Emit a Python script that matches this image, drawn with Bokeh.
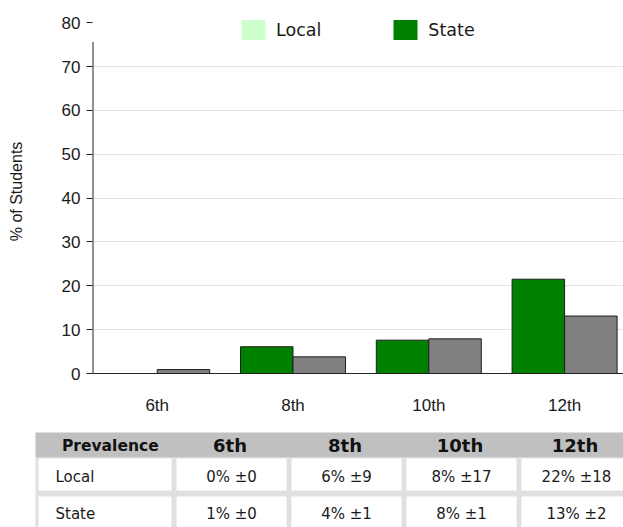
import numpy as np
from bokeh.plotting import figure
from bokeh.models import Range1d, FixedTicker, Legend, LegendItem
from bokeh.core.properties import value
from bokeh.embed import file_html
from bokeh.resources import INLINE

# ---------------- data ----------------
grades = ["6th", "8th", "10th", "12th"]
local_pct = [0.0, 6.1, 7.6, 21.5]
state_pct = [0.9, 3.8, 7.9, 13.1]
local_txt = ["0% \u00b10", "6% \u00b19", "8% \u00b117", "22% \u00b118"]
state_txt = ["1% \u00b10", "4% \u00b11", "8% \u00b11", "13% \u00b12"]
row_names = ["Local", "State"]
table_head = "Prevalence"
y_tick_values = [0, 10, 20, 30, 40, 50, 60, 70, 80]
y_title = "% of Students"
series_names = ["Local", "State"]

# ---------------- styles ----------------
GREEN = "#008000"
GRAY = "#808080"
LEGEND_LOCAL = "#CCFFCC"
LEGEND_STATE = "#008000"
EDGE = "#1e1e1e"
AX_FONT = "Arial"
TXT = "#1a1a1a"
AXIS_TOP = 75.6

idx = np.arange(len(grades))
BAR_W = 0.3866
X0, X1 = -0.4764, 3.4337

p = figure(width=623, height=428, output_backend="svg", toolbar_location=None,
           x_range=Range1d(X0, X1), y_range=Range1d(0, 83),
           min_border_left=92, min_border_right=0, min_border_top=9,
           min_border_bottom=55)
p.outline_line_color = None

p.vbar(x=idx - BAR_W / 2, top=local_pct, bottom=0, width=BAR_W,
       fill_color=GREEN, line_color=EDGE, line_width=1)
p.vbar(x=idx + BAR_W / 2, top=state_pct, bottom=0, width=BAR_W,
       fill_color=GRAY, line_color=EDGE, line_width=1)

# y axis line drawn up to where the original stops it
p.segment(x0=[X0], y0=[0], x1=[X0], y1=[AXIS_TOP], line_color="#222222",
          line_width=2)

# legend proxies (their swatch colours differ from the bars, as in the original)
r_loc = p.vbar(x=[idx[0]], top=[0], bottom=[0], width=BAR_W,
               fill_color=LEGEND_LOCAL, line_color=None)
r_sta = p.vbar(x=[idx[0]], top=[0], bottom=[0], width=BAR_W,
               fill_color=LEGEND_STATE, line_color=None)
legend = Legend(items=[LegendItem(label=series_names[0], renderers=[r_loc]),
                       LegendItem(label=series_names[1], renderers=[r_sta])],
                location=(146, 331), orientation="horizontal",
                glyph_width=30, glyph_height=25, label_standoff=8, spacing=69,
                padding=0, margin=0, border_line_color=None,
                background_fill_alpha=0,
                label_text_font="DejaVu Sans", label_text_font_size="17.5px",
                label_text_color=TXT)
p.add_layout(legend)

# axes
p.xgrid.grid_line_color = None
p.ygrid.ticker = FixedTicker(ticks=y_tick_values[1:-1])
p.ygrid.grid_line_color = "#e3e3e3"
p.ygrid.grid_line_width = 1

ya = p.yaxis[0]
ya.ticker = FixedTicker(ticks=y_tick_values)
ya.major_tick_out = 6
ya.major_tick_in = 0
ya.minor_tick_line_color = None
ya.major_label_standoff = 6
ya.axis_line_color = None
ya.major_tick_line_color = "#222222"
ya.axis_label = y_title
ya.axis_label_text_font = AX_FONT
ya.axis_label_text_font_size = "16px"
ya.axis_label_text_font_style = "normal"
ya.axis_label_text_color = TXT
ya.axis_label_standoff = 34

xa = p.xaxis[0]
xa.ticker = FixedTicker(ticks=list(idx))
xa.major_label_overrides = {int(i): g for i, g in zip(idx, grades)}
xa.major_tick_line_color = None
xa.minor_tick_line_color = None
xa.major_label_standoff = 16
xa.axis_line_color = "#222222"

for ax in (xa, ya):
    ax.major_label_text_font = AX_FONT
    ax.major_label_text_font_size = "17px"
    ax.major_label_text_color = TXT

# ---------------- table ----------------
t = figure(width=623, height=99, output_backend="svg", toolbar_location=None,
           x_range=Range1d(0, 623), y_range=Range1d(527, 428),
           x_axis_type=None, y_axis_type=None,
           min_border_left=0, min_border_right=0, min_border_top=0,
           min_border_bottom=0)
t.outline_line_color = None
t.grid.visible = False

TBL_L, TBL_R = 35, 650
HEAD_T, HEAD_B = 432, 457
col_left = [38] + [176 + 115 * j for j in range(len(grades))]
col_right = [171] + [286 + 115 * j for j in range(len(grades))]
row_top = [458 + 38 * r for r in range(len(row_names))]
row_bot = [490 + 38 * r for r in range(len(row_names))]

t.quad(left=[TBL_L], right=[TBL_R], top=[HEAD_B], bottom=[540],
       fill_color="#e0e0e0", line_color=None)
t.quad(left=[TBL_L], right=[TBL_R], top=[HEAD_T], bottom=[HEAD_B],
       fill_color="#c0c0c0", line_color=None)

ql, qr, qt, qb = [], [], [], []
for r in range(len(row_names)):
    for c in range(len(col_left)):
        ql.append(col_left[c]); qr.append(col_right[c])
        qt.append(row_top[r]); qb.append(row_bot[r])
t.quad(left=ql, right=qr, top=qt, bottom=qb, fill_color="white", line_color=None)

head_y = (HEAD_T + HEAD_B) / 2 + 0.5
centers = [(col_left[c + 1] + col_right[c + 1]) / 2 - 1.5 for c in range(len(grades))]
t.text(x=[61.5], y=[head_y], text=[table_head], text_font=value("DejaVu Sans"),
       text_font_style="bold", text_font_size="15.5px", text_align="left",
       text_baseline="middle", text_color="#111111")
t.text(x=centers, y=[head_y] * len(grades), text=grades,
       text_font=value("DejaVu Sans"), text_font_style="bold",
       text_font_size="18px", text_align="center", text_baseline="middle",
       text_color="#111111")

row_y = [(row_top[r] + row_bot[r]) / 2 + (2.5 if r == 0 else 1.0)
         for r in range(len(row_names))]
t.text(x=[55] * len(row_names), y=row_y, text=row_names,
       text_font=value("DejaVu Sans"), text_font_size="15px", text_align="left",
       text_baseline="middle", text_color=TXT)
cells_x, cells_y, cells_t = [], [], []
for r, vals in enumerate([local_txt, state_txt]):
    for c, s in enumerate(vals):
        cells_x.append((col_left[c + 1] + col_right[c + 1]) / 2)
        cells_y.append(row_y[r])
        cells_t.append(s)
t.text(x=cells_x, y=cells_y, text=cells_t, text_font=value("DejaVu Sans"),
       text_font_size="15px", text_align="center", text_baseline="middle",
       text_color=TXT)

open("out.html", "w").write(file_html([p, t], INLINE))
